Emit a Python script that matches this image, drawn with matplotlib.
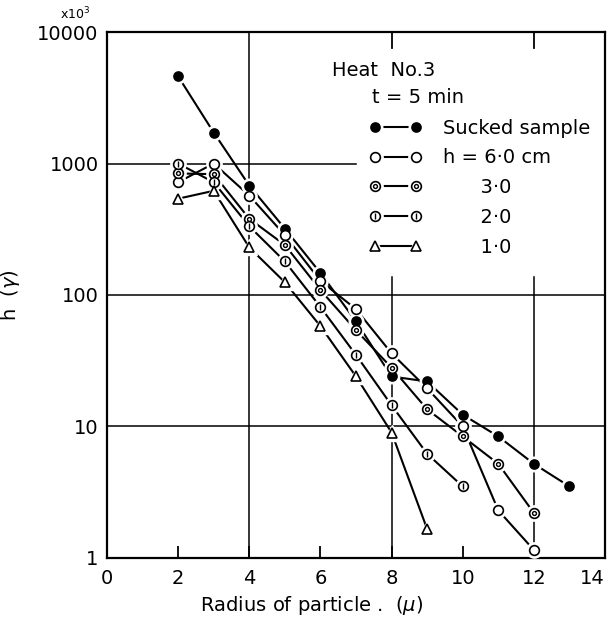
import matplotlib
matplotlib.use('Agg')
import matplotlib.pyplot as plt
from matplotlib.ticker import NullLocator
from matplotlib.legend_handler import HandlerTuple

plt.rcParams.update({'font.family': 'DejaVu Sans', 'font.size': 14})

# Data (h in units of x10^3, radius in micron)
x_sucked = [2, 3, 4, 5, 6, 7, 8, 9, 10, 11, 12, 13]
h_sucked = [4600, 1720, 680, 320, 147, 63, 24, 22, 12.3, 8.4, 5.2, 3.5]

x_h60 = [2, 3, 4, 5, 6, 7, 8, 9, 10, 11, 12]
h_h60 = [720, 1000, 570, 285, 128, 78, 36, 19.5, 10, 2.3, 1.15]

x_h30 = [2, 3, 4, 5, 6, 7, 8, 9, 10, 11, 12]
h_h30 = [840, 830, 380, 240, 109, 54, 28, 13.5, 8.4, 5.2, 2.2]

x_h20 = [2, 3, 4, 5, 6, 7, 8, 9, 10]
h_h20 = [1000, 720, 333, 180, 81, 35, 14.5, 6.2, 3.5]

x_h10 = [2, 3, 4, 5, 6, 7, 8, 9]
h_h10 = [540, 620, 230, 125, 58, 24, 9, 1.66]

labels = ['Sucked sample', 'h = 6\u00b70 cm', '      3\u00b70', '      2\u00b70', '      1\u00b70']

fig = plt.figure(figsize=(6.12, 6.30), dpi=100)
ax = fig.add_axes([0.1748, 0.1143, 0.8138, 0.8349])


def series(x, y, marker, ms, face, inner=None, inner_ms=None):
    line, = ax.plot(x, y, '-', color='black', lw=1.5, zorder=2)
    halo, = ax.plot(x, y, ls='none', marker=marker, ms=ms + 4,
                    mfc='white', mec='white', zorder=3)
    mk, = ax.plot(x, y, ls='none', marker=marker, ms=ms, mfc=face,
                  mec='black', mew=1.2, zorder=4)
    parts = [line, halo, mk]
    if inner is not None:
        inn, = ax.plot(x, y, ls='none', marker=inner, ms=inner_ms,
                       mfc='white', mec='black', mew=1.0, zorder=5)
        parts.append(inn)
    return tuple(parts)


handles = [
    series(x_sucked, h_sucked, 'o', 6.5, 'black'),
    series(x_h60, h_h60, 'o', 7, 'white'),
    series(x_h30, h_h30, 'o', 7, 'white', 'o', 2.8),
    series(x_h20, h_h20, 'o', 7, 'white', '|', 5),
    series(x_h10, h_h10, '^', 7.5, 'white'),
]

ax.set_yscale('log')
ax.set_xlim(0, 14)
ax.set_ylim(1, 10000)
ax.set_xticks(range(0, 15, 2))
ax.set_yticks([1, 10, 100, 1000, 10000])
ax.set_yticklabels(['1', '10', '100', '1000', '10000'])
ax.yaxis.set_minor_locator(NullLocator())
ax.tick_params(axis='x', direction='in', length=9, width=1.3, pad=8)
ax.tick_params(axis='y', length=0, pad=6)
ax.get_xticklabels()[-1].set_horizontalalignment('right')
for s in ax.spines.values():
    s.set_linewidth(1.6)

# partial grid as in the original figure
ax.axhline(10, color='black', lw=1.1, zorder=1)
ax.axhline(100, color='black', lw=1.1, zorder=1)
ax.axhline(1000, xmax=0.5, color='black', lw=1.1, zorder=1)
ax.axvline(4, color='black', lw=1.1, zorder=1)
ax.axvline(8, ymax=0.535, color='black', lw=1.1, zorder=1)
ax.axvline(12, ymax=0.535, color='black', lw=1.1, zorder=1)
ax.axvline(8, ymin=0.97, color='black', lw=1.3, zorder=1)
ax.axvline(12, ymin=0.97, color='black', lw=1.3, zorder=1)

ax.set_xlabel('Radius of particle .  ($\\mu$)', x=0.41, labelpad=4)
ax.set_ylabel('h  ($\\gamma$)')
ax.yaxis.set_label_coords(-0.17, 0.5)
fig.text(0.122, 0.977, 'x10$^3$', fontsize=9, ha='center', va='center')

ax.text(0.452, 0.926, 'Heat  No.3', transform=ax.transAxes, va='center')
ax.text(0.532, 0.875, 't = 5 min', transform=ax.transAxes, va='center')

ax.legend(handles, labels, handler_map={tuple: HandlerTuple(ndivide=1)},
          numpoints=2, handlelength=2.7, handletextpad=1.1, labelspacing=0.55,
          frameon=False, borderpad=0, borderaxespad=0, fontsize=14,
          loc='upper left', bbox_to_anchor=(0.527, 0.835))

fig.savefig('out.png', dpi=100)
